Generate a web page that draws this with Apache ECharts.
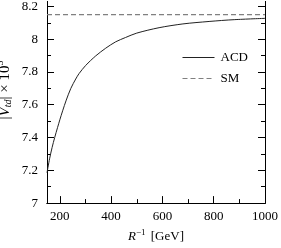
<!DOCTYPE html>
<html>
<head>
<meta charset="utf-8">
<script src="https://cdn.jsdelivr.net/npm/echarts@6/dist/echarts.min.js"></script>
<style>html,body{margin:0;padding:0;background:#fff;}#c{width:281px;height:248px;}</style>
</head>
<body>
<div id="c"></div>
<script>
const rVals   = [150, 160, 170, 180, 191, 200, 211, 225, 243, 262, 275, 301, 340, 379, 418, 456, 500, 587, 680, 782, 880, 1000];
const acdVals = [7.185, 7.27, 7.34, 7.40, 7.46, 7.508, 7.563, 7.628, 7.70, 7.757, 7.79, 7.84, 7.898, 7.945, 7.984, 8.01, 8.037, 8.07, 8.093, 8.108, 8.119, 8.127];
const smVal = 8.15;
const xMajor = [200, 400, 600, 800, 1000];
const xMinor = [300, 500, 700, 900];
const yMajor = [7, 7.2, 7.4, 7.6, 7.8, 8, 8.2];
const yMinor = [7.1, 7.3, 7.5, 7.7, 7.9, 8.1];
const seriesNames = ['ACD', 'SM'];

const FONT = '"Liberation Serif", "DejaVu Serif", serif';
const chart = echarts.init(document.getElementById('c'));
const acdData = rVals.map((r, i) => [r, acdVals[i]]);
const smData = [[150, smVal], [1000, smVal]];

function xAx(ticks, len, labels) {
  return {
    type: 'value', position: 'bottom', min: 150, max: 1000,
    axisLine: { show: true, lineStyle: { color: '#000', width: 1 } },
    axisTick: { show: true, inside: true, length: len, customValues: ticks, lineStyle: { color: '#000', width: 1 } },
    axisLabel: labels ? { show: true, customValues: ticks, margin: 7, color: '#000', fontFamily: FONT, fontSize: 13, formatter: v => String(v) } : { show: false },
    splitLine: { show: false }
  };
}
function yAx(pos, ticks, len, labels) {
  return {
    type: 'value', position: pos, min: 7, max: 8.23,
    axisLine: { show: true, lineStyle: { color: '#000', width: 1 } },
    axisTick: { show: true, inside: true, length: len, customValues: ticks, lineStyle: { color: '#000', width: 1 } },
    axisLabel: labels ? { show: true, customValues: ticks, margin: 9, color: '#000', fontFamily: FONT, fontSize: 13, formatter: v => String(v) } : { show: false },
    splitLine: { show: false }
  };
}

const x0 = xAx(xMajor, 7, true);
x0.name = '{i|R}{s|−1} [GeV]';
x0.nameLocation = 'middle';
x0.nameGap = 21;
x0.nameTextStyle = {
  color: '#000', fontFamily: FONT, fontSize: 13,
  rich: {
    i: { fontStyle: 'italic', fontFamily: FONT, fontSize: 13, color: '#000' },
    s: { fontFamily: FONT, fontSize: 9, color: '#000', padding: [0, 2, 8, 0] }
  }
};

chart.setOption({
  animation: false,
  backgroundColor: '#fff',
  grid: { left: 47, right: 15, top: 0, bottom: 40 },
  legend: {
    orient: 'vertical', left: 182, top: 51, padding: 0,
    itemWidth: 32, itemHeight: 12, itemGap: 8,
    data: seriesNames,
    itemStyle: { opacity: 0 },
    lineStyle: { width: 1 },
    textStyle: { color: '#000', fontFamily: FONT, fontSize: 13, padding: [0, 0, 0, 1] }
  },
  xAxis: [x0, xAx(xMinor, 4, false)],
  yAxis: [yAx('left', yMajor, 7, true), yAx('left', yMinor, 4, false), yAx('right', yMajor, 7, false), yAx('right', yMinor, 4, false)],
  graphic: [{
    type: 'text', x: 5, y: 90, rotation: Math.PI / 2,
    style: {
      text: '{n||}{i|V}{s|td}{n|| × 10}{p|3}',
      align: 'center', verticalAlign: 'middle',
      fontFamily: FONT, fontSize: 15, fill: '#000',
      rich: {
        n: { fontFamily: FONT, fontSize: 15, fill: '#000' },
        i: { fontFamily: FONT, fontSize: 15, fontStyle: 'italic', fill: '#000' },
        s: { fontFamily: FONT, fontSize: 10, fontStyle: 'italic', fill: '#000', padding: [7, 0, 0, 0] },
        p: { fontFamily: FONT, fontSize: 10, fill: '#000', padding: [0, 0, 9, 0] }
      }
    }
  }],
  series: [
    {
      name: 'ACD', type: 'line', xAxisIndex: 0, yAxisIndex: 0, data: acdData,
      symbol: 'none', smooth: 0.3,
      lineStyle: { color: '#222', width: 1 }, itemStyle: { color: '#222' }
    },
    {
      name: 'SM', type: 'line', xAxisIndex: 0, yAxisIndex: 0, data: smData,
      symbol: 'none',
      lineStyle: { color: '#808080', width: 1.2, type: [5, 3] }, itemStyle: { color: '#808080' }
    }
  ]
});
</script>
</body>
</html>
